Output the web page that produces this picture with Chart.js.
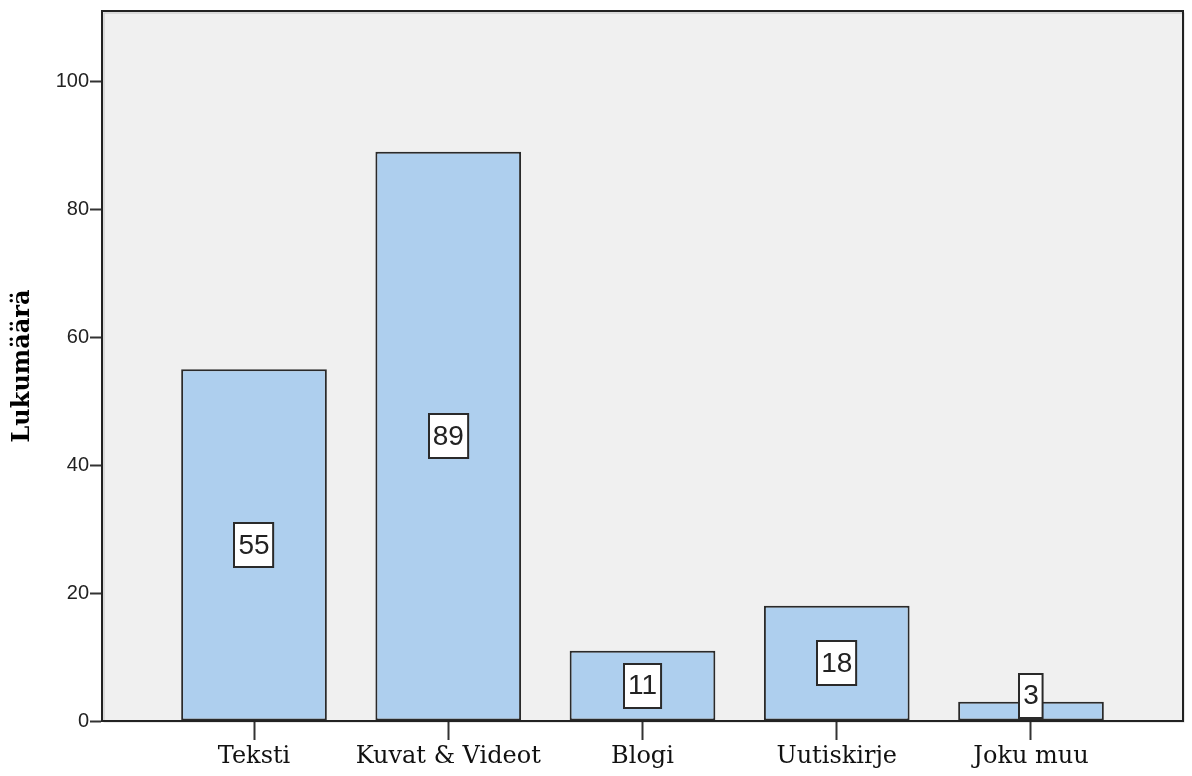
<!DOCTYPE html>
<html>
<head>
<meta charset="utf-8">
<script src="https://cdn.jsdelivr.net/npm/chart.js@4/dist/chart.umd.min.js"></script>
<style>
  html, body { margin: 0; padding: 0; background: #fff; }
  #wrap { width: 1192px; height: 776px; }
</style>
</head>
<body>
<div id="wrap"><canvas id="chart" width="1192" height="776"></canvas></div>
<script>
// arvot luettu kuvasta
const categories = ["Teksti", "Kuvat & Videot", "Blogi", "Uutiskirje", "Joku muu"];
const counts = [55, 89, 11, 18, 3];
const yTicks = [0, 20, 40, 60, 80, 100];
const yTitle = "Lukumäärä";

// taustan ja kehyksen piirto
const plotFrame = {
    id: "plotFrame",
    beforeDatasetsDraw(chart) {
        const { ctx, chartArea: a } = chart;
        ctx.save();
        ctx.fillStyle = "#f0f0f0";
        ctx.fillRect(a.left, a.top, a.right - a.left, a.bottom - a.top);
        ctx.restore();
    },
    afterDatasetsDraw(chart) {
        const { ctx, chartArea: a } = chart;
        ctx.save();
        ctx.strokeStyle = "rgba(0,0,0,0.18)";
        ctx.lineWidth = 1;
        ctx.strokeRect(a.left + 2, a.top + 2, a.right - a.left - 1, a.bottom - a.top - 1);
        ctx.strokeStyle = "#222";
        ctx.lineWidth = 2;
        ctx.strokeRect(a.left, a.top, a.right - a.left, a.bottom - a.top);
        ctx.restore();
    }
};

// arvolaatikot pylväiden keskelle
const valueBoxes = {
    id: "valueBoxes",
    afterDraw(chart) {
        const { ctx } = chart;
        const meta = chart.getDatasetMeta(0);
        ctx.save();
        ctx.font = "28px 'Liberation Sans', Arial, sans-serif";
        ctx.textAlign = "center";
        ctx.textBaseline = "middle";
        meta.data.forEach((bar, i) => {
            const txt = String(counts[i]);
            const w = ctx.measureText(txt).width + 8;
            const h = 44;
            let yc = (bar.y + bar.base) / 2;
            if (yc + h / 2 > bar.base - 3) yc = bar.base - 3 - h / 2;
            const x0 = Math.round(bar.x - w / 2);
            const y0 = Math.round(yc - h / 2);
            ctx.fillStyle = "#fff";
            ctx.fillRect(x0, y0, w, h);
            ctx.strokeStyle = "#2a2a2a";
            ctx.lineWidth = 2;
            ctx.strokeRect(x0, y0, w, h);
            ctx.fillStyle = "#222";
            ctx.fillText(txt, bar.x, yc + 1);
        });
        ctx.restore();
    }
};

new Chart(document.getElementById("chart"), {
    type: "bar",
    data: {
        datasets: [{
            data: counts.map((v, i) => ({ x: i, y: v })),
            backgroundColor: "#aecfee",
            borderColor: "#2a2a2a",
            borderWidth: 2,
            borderSkipped: false,
            barPercentage: 0.75,
            categoryPercentage: 1
        }]
    },
    options: {
        responsive: false,
        animation: false,
        layout: { padding: { left: 0, right: 9, top: 11, bottom: 0 } },
        plugins: { legend: { display: false }, tooltip: { enabled: false } },
        scales: {
            x: {
                type: "linear",
                offset: false,
                min: -0.7825,
                max: 4.7825,
                afterBuildTicks: s => { s.ticks = categories.map((c, i) => ({ value: i })); },
                afterFit: s => { s.height = 55; },
                ticks: {
                    callback: v => categories[v],
                    font: { family: "'DejaVu Serif', serif", size: 24 },
                    color: "#111",
                    padding: 2,
                    maxRotation: 0,
                    autoSkip: false
                },
                grid: { offset: false, drawOnChartArea: false, tickLength: 19, tickWidth: 2, tickColor: "#333" },
                border: { color: "#222", width: 2 }
            },
            y: {
                min: 0,
                max: 111,
                afterBuildTicks: s => { s.ticks = yTicks.map(v => ({ value: v })); },
                afterFit: s => { s.width = 102; s.paddingTop = 0; s.paddingBottom = 0; },
                ticks: {
                    font: { family: "'Liberation Sans', Arial, sans-serif", size: 20, lineHeight: 0.8 },
                    color: "#222",
                    padding: 1
                },
                grid: { drawOnChartArea: false, tickLength: 12, tickWidth: 2, tickColor: "#333" },
                border: { color: "#222", width: 2 },
                title: {
                    display: true,
                    text: yTitle,
                    font: { family: "'DejaVu Serif', serif", size: 24, weight: "bold" },
                    color: "#000",
                    padding: { top: 8, bottom: 0 }
                }
            }
        }
    },
    plugins: [plotFrame, valueBoxes]
});
</script>
</body>
</html>
